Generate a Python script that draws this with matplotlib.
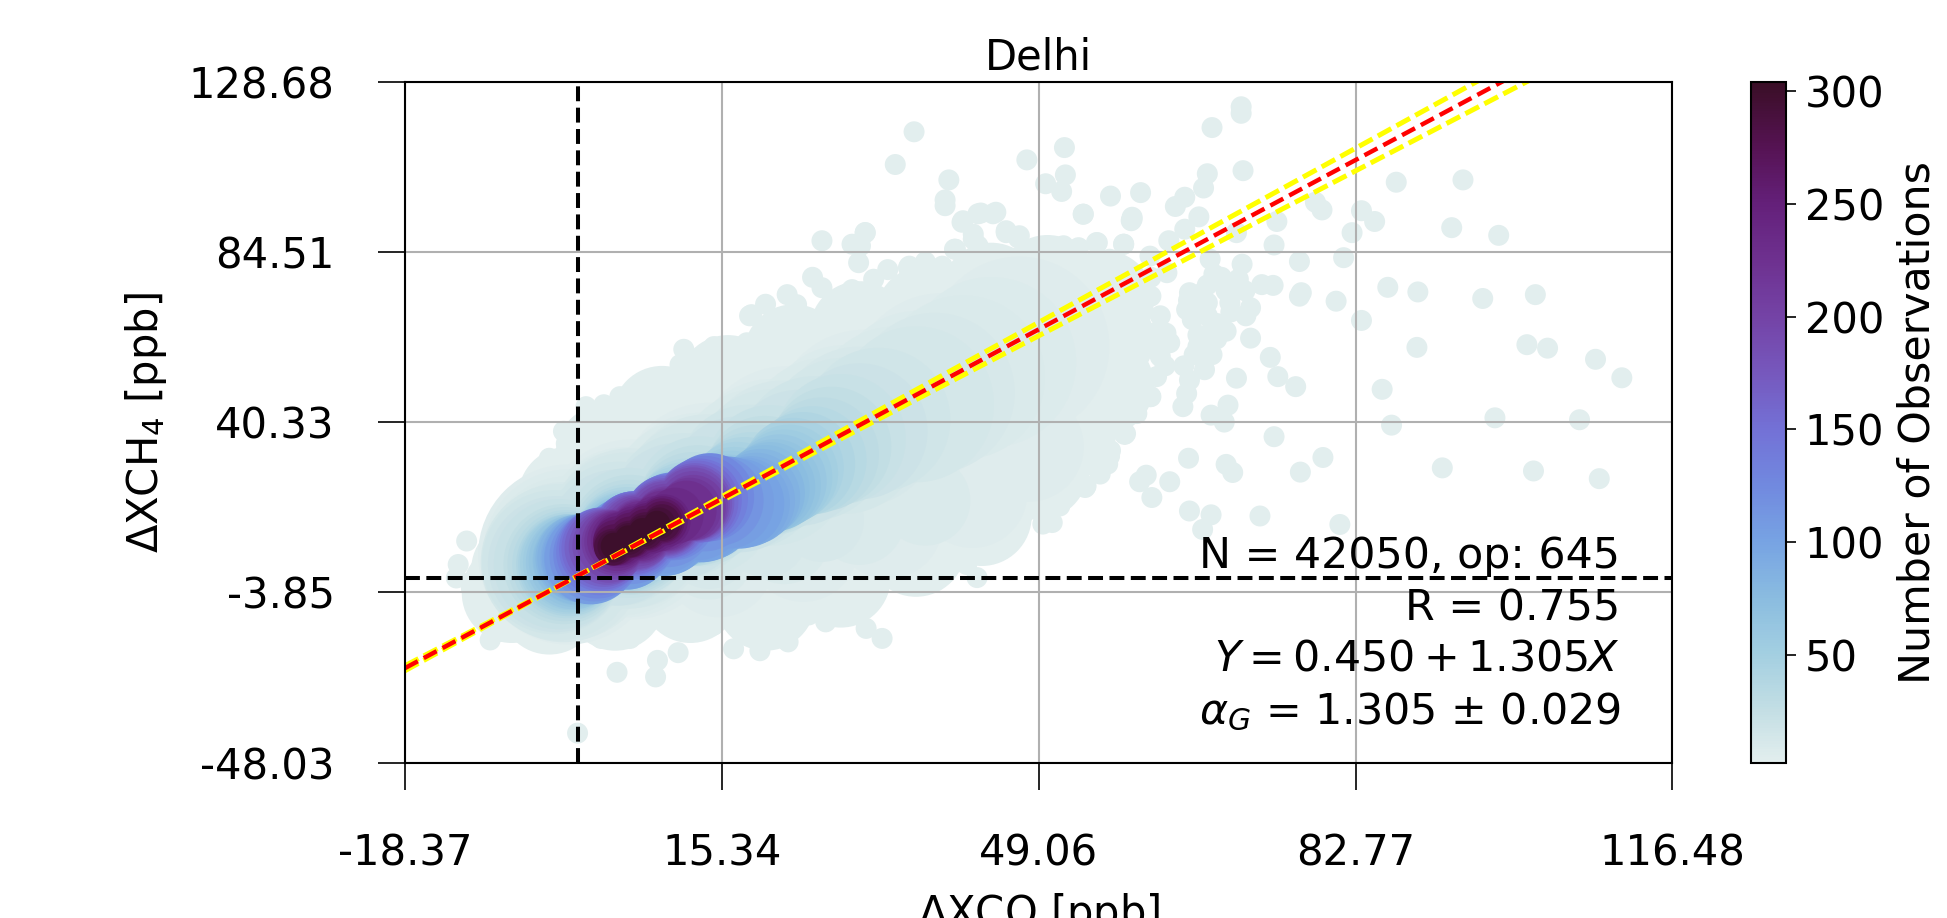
#!/usr/bin/env python3
"""Delhi dXCH4 vs dXCO density scatter, values read off the reference chart."""

import matplotlib

matplotlib.use("Agg")
import matplotlib.pyplot as plt
import numpy as np
from matplotlib.colors import LinearSegmentedColormap, Normalize

x_ticks = [-18.37, 15.34, 49.06, 82.77, 116.48]
y_ticks = [-48.03, -3.85, 40.33, 84.51, 128.68]
x_tick_labels = ["-18.37", "15.34", "49.06", "82.77", "116.48"]
y_tick_labels = ["-48.03", "-3.85", "40.33", "84.51", "128.68"]
cbar_ticks = [50, 100, 150, 200, 250, 300]

fit_intercept = 0.450
fit_slope = 1.305
slope_low = 1.271
slope_high = 1.342

# colour stops of the colourbar (value, colour)
cmap_values = [2.1, 25, 50, 75, 100, 125, 150, 175, 200, 225, 250, 275, 304]
cmap_colors = ["#e2eeee", "#c3dee4", "#a3cfe1", "#8abce0", "#77a3e3", "#7189df", "#7371d6",
               "#7658bd", "#7443a6", "#6e3190", "#64207a", "#561354", "#3a0e26"]

# single observations around the cloud
outliers = [
    (35.8, 115.8), (33.8, 107.3), (39.5, 103.3), (39.1, 98.1), (47.8, 108.5), (51.8, 111.7),
    (51.9, 104.6), (49.8, 102.3), (51.5, 100.3), (56.7, 99.1), (59.9, 100.0), (53.8, 94.4),
    (58.9, 92.7), (59.0, 93.6), (64.6, 98.8), (63.6, 96.4), (67.0, 104.9), (66.6, 101.2),
    (67.5, 116.9), (70.6, 122.3), (70.6, 120.6), (70.8, 105.7), (87.1, 102.7), (94.2, 103.3),
    (93.0, 90.9), (98.0, 88.9), (83.4, 95.3), (84.8, 92.5), (82.4, 89.6), (81.5, 83.1),
    (78.5, 97.5), (79.2, 95.5), (74.4, 92.5), (74.1, 86.4), (76.8, 82.1), (70.1, 89.6),
    (66.1, 93.7), (64.6, 90.5), (62.9, 87.5), (58.1, 86.6), (55.3, 87.0), (53.3, 85.7),
    (51.5, 85.3), (49.1, 84.4), (30.6, 89.6), (30.1, 86.2), (44.5, 94.9), (42.9, 94.7),
    (41.0, 92.7), (42.1, 89.2), (45.6, 90.1), (46.9, 88.2), (40.2, 85.3), (42.6, 86.2),
    (35.3, 80.9), (38.8, 80.9), (67.3, 82.7), (70.7, 81.4), (67.7, 78.8), (70.3, 77.5),
    (74.0, 75.9), (72.8, 76.1), (76.8, 73.1), (77.0, 74.0), (80.7, 71.8), (83.4, 66.8),
    (86.2, 75.4), (89.4, 74.2), (96.3, 72.5), (101.9, 73.5), (89.3, 59.8), (101.0, 60.5),
    (103.2, 59.6), (108.3, 56.7), (111.1, 51.9), (85.6, 48.9), (86.6, 39.6), (97.6, 41.5),
    (106.6, 41.0), (65.1, 74.0), (66.5, 74.0), (69.4, 71.4), (71.6, 70.1), (71.1, 68.0),
    (64.8, 69.6), (67.0, 71.4), (65.4, 67.0), (67.6, 65.3), (67.0, 61.8), (71.6, 62.2),
    (73.7, 57.2), (65.6, 57.9), (67.5, 57.9), (66.7, 54.0), (65.1, 51.3), (64.8, 47.8),
    (64.4, 44.4), (70.1, 51.8), (74.5, 52.2), (76.4, 49.6), (69.2, 44.8), (67.4, 42.2),
    (68.8, 40.4), (74.1, 36.6), (65.0, 31.0), (69.0, 29.4), (69.7, 27.3), (76.9, 27.4),
    (79.3, 31.2), (92.0, 28.5), (101.7, 27.7), (108.7, 25.7), (60.5, 26.6), (59.8, 24.9),
    (63.0, 24.9), (61.1, 20.8), (65.1, 17.3), (67.4, 16.3), (66.5, 12.5), (72.6, 16.0),
    (81.1, 13.8), (55.6, 27.7), (56.6, 31.6), (54.1, 23.8), (51.7, 23.8), (52.2, 28.1),
    (51.3, 18.6), (50.5, 14.3), (54.4, 36.0), (58.2, 37.2), (61.3, 63.5), (61.9, 59.2),
    (61.6, 52.2), (61.0, 47.0), (58.6, 42.6), (58.3, 37.4), (56.7, 33.0), (54.3, 35.6),
    (56.4, 29.5), (61.0, 73.1), (62.7, 79.2), (0.0, -40.4),
    (66.0, 70.0), (67.0, 68.0), (68.0, 66.0), (66.0, 63.0), (68.0, 62.0), (69.0, 74.5),
    (67.0, 76.0), (65.0, 72.0), (66.0, 60.0), (64.5, 55.0), (69.5, 69.0), (69.0, 64.0),
    (68.5, 78.0), (71.0, 74.5), (62.0, 68.0), (63.0, 61.0), (62.5, 55.0), (61.0, 78.0),
]

# scalloped outline of the main cloud
cloud_edge = [
    (-11.8, 9.5), (-12.7, 3.4), (-12.9, -0.1), (-11.3, -2.7), (-9.5, 4.3), (-7.8, 8.6),
    (-9.3, -16.2), (-8.3, -14.0), (-3.5, -15.8), (-2.1, -16.7), (2.5, -15.8), (5.6, -15.8),
    (8.5, -21.5), (8.3, -25.8), (4.2, -24.6), (10.7, -19.5), (16.6, -18.5), (19.4, -19.0),
    (22.4, -16.7), (14.5, -12.3), (11.6, -12.8), (21.2, -14.0), (26.4, -11.5), (28.6, -8.8),
    (30.7, -13.2), (32.4, -15.8), (24.6, -9.7), (31.7, -2.7), (-7.0, -12.3), (-10.6, -6.2),
    (-4.6, -13.2), (-6.0, 17.4), (-4.9, 20.0), (-3.9, 27.8), (-1.2, 34.8), (0.9, 44.4),
    (2.8, 44.9), (6.0, 45.3), (9.2, 48.8), (11.3, 59.3), (10.9, 55.3), (13.0, 54.9),
    (18.3, 68.0), (18.0, 61.0), (16.6, 57.5), (-7.0, 13.0), (18.5, 68.3), (21.0, 67.0),
    (22.3, 73.5), (23.3, 70.9), (26.0, 75.3), (26.0, 87.5), (29.2, 86.6), (30.6, 89.6),
    (29.9, 81.8), (29.2, 74.8), (31.5, 77.5), (35.2, 80.5), (38.6, 80.1), (40.9, 92.3),
    (42.6, 94.5), (44.2, 94.5), (39.1, 96.6), (40.1, 85.3), (42.1, 87.9), (45.6, 89.6),
    (47.0, 88.8), (46.7, 80.9), (49.0, 84.4), (53.8, 94.4), (51.7, 86.2), (55.2, 87.0),
    (58.1, 86.6), (59.0, 93.1), (56.6, 82.7), (60.9, 83.5), (62.6, 63.5), (62.0, 57.4),
    (60.9, 47.0), (59.5, 42.6), (58.2, 37.4), (56.5, 31.3), (54.2, 35.6), (55.6, 26.9),
    (52.0, 26.9), (54.0, 23.4), (51.7, 23.4), (50.6, 19.1), (49.5, 13.9), (47.4, 16.5),
    (45.5, 9.5), (41.4, 3.4), (42.5, 0.0), (40.0, 6.0), (35.0, -1.0), (31.8, -3.6),
    (-1.0, -8.0), (36.0, 2.0), (44.0, 12.0), (48.0, 22.0), (57.0, 44.0), (60.0, 60.0),
    (-8.5, 12.0), (-6.5, 16.0), (-5.5, 23.0), (-3.0, 31.0), (-1.5, 38.0), (4.5, 47.0),
    (7.5, 50.0), (14.5, 60.0), (20.0, 71.0), (25.0, 78.0), (33.0, 80.0), (37.0, 82.0),
]

# interior of the cloud at the lowest count
fill_pts = [
    (-7, -4), (-6, 2), (-3, -7), (4, -6), (12, -4), (20, -6), (28, 0), (36, 8), (43, 16),
    (49, 28), (52, 38), (56, 50), (56, 62), (56, 72), (50, 76), (44, 74), (37, 68), (30, 64),
    (23, 58), (16, 50), (9, 42), (3, 32), (-1, 21), (44, 40), (48, 55), (40, 28),
    (30, 12), (36, 20), (34, 30), (48, 44), (38, 40), (40, 56), (50, 62), (32, 50), (25, 40),
    (25, 8), (15, 8), (44, 28), (52, 50), (44, 64),
]

# denser counts run along the ridge of the cloud
lvl_5 = [(-1, 6), (5.75, 12.5), (14, 22), (22.25, 31.5), (30.5, 41), (38.75, 50.5), (47, 60)]
low_5 = [(15, 4), (24, 8), (33, 14), (42, 22), (48, 34)]
lvl_7 = [(-1, 6), (5.25, 11.8), (13, 20.7), (20.75, 29.5), (28.5, 38.3), (36.25, 47.2), (44, 56)]
low_8 = [(14, 6), (22, 10), (30, 15), (37, 20)]
lvl_9 = [(-1, 5), (4.75, 11.6), (12, 19.7), (19.25, 27.75), (26.5, 35.8), (33.75, 43.9), (41, 52)]
low_11 = [(14, 8), (20, 11), (26, 15)]
lvl_11 = [(-1.5, 4), (5.6, 12.8), (13.7, 21.6), (21.8, 30.4), (29.9, 39.2), (38, 48)]
lvl_13 = [(-2, 4), (5.2, 12.2), (12.9, 20.4), (20.6, 28.6), (28.3, 36.8), (36, 45)]
lvl_16 = [(-2.5, 4), (4.4, 11.4), (11.3, 18.8), (18.2, 26.2), (25.1, 33.6), (32, 41)]
lvl_19 = [(-2.3, 3.5), (4.16, 10.4), (10.6, 17.3), (17.1, 24.2), (23.5, 31.1), (30, 38)]
lvl_22 = [(-2, 3.5), (5.5, 11.6), (13, 19.8), (20.5, 27.9), (28, 36)]
lvl_26 = [(-1.5, 3.5), (5.6, 11.1), (12.8, 18.8), (19.9, 26.4), (27, 34)]
lvl_30 = [(-1.4, 3.5), (5.45, 10.6), (12.3, 17.8), (19.15, 24.9), (26, 32)]
lvl_35 = [(-1.2, 3.5), (5.35, 10.25), (11.9, 17), (18.45, 23.75), (25, 30.5)]
lvl_40 = [(-1, 3.5), (5.25, 10), (11.5, 16.5), (17.75, 23), (24, 29.5)]
lvl_45 = [(-1, 3.5), (5, 9.75), (11, 16), (17, 22.25), (23, 28.5)]
lvl_50 = [(-0.9, 3.7), (4.95, 9.5), (10.8, 15.4), (16.65, 21.2), (22.5, 27)]
lvl_55 = [(-0.7, 4), (4.97, 9.5), (10.65, 15), (16.3, 20.5), (22, 26)]
lvl_60 = [(-0.5, 4), (5, 9.25), (10.5, 14.5), (16, 19.75), (21.5, 25)]
lvl_65 = [(-0.3, 4.3), (5, 9.2), (10.3, 14.2), (15.7, 19.1), (21, 24)]
lvl_70 = [(0, 4.5), (5.1, 9.25), (10.25, 14), (15.4, 18.75), (20.5, 23.5)]
lvl_75 = [(0, 4.5), (5, 9.1), (10, 13.75), (15, 18.4), (20, 23)]
lvl_80 = [(0.2, 5), (5, 9.25), (9.85, 13.5), (14.7, 17.75), (19.5, 22)]
lvl_85 = [(0.4, 5), (5.05, 9), (9.7, 13), (14.35, 17), (19, 21)]
lvl_90 = [(0.8, 5), (5.2, 8.75), (9.6, 12.5), (14, 16.25), (18.4, 20)]
lvl_95 = [(1, 5), (5.2, 8.6), (9.4, 12.25), (13.6, 15.9), (17.8, 19.5)]
lvl_100 = [(1.2, 5), (5.2, 8.55), (9.2, 12.1), (13.2, 15.65), (17.2, 19.2)]
lvl_105 = [(1.4, 5), (5.2, 9), (9, 13), (12.8, 16.5), (16, 19.5)]
lvl_115 = [(1.8, 5.5), (5.7, 10), (9.6, 14.4), (13.5, 18.5), (15, 20)]
lvl_125 = [(2.1, 6.0), (6.1, 11.0), (10.1, 15.9), (14.1, 20.9)]
lvl_135 = [(2.3, 6.6), (6.05, 11.25), (9.8, 15.85), (13.55, 20.45)]
lvl_145 = [(2.5, 7.3), (6.0, 11.5), (9.5, 15.8), (13.0, 20.0)]
lvl_155 = [(2.65, 7.55), (6, 11.6), (9.4, 15.7), (12.75, 19.75)]
lvl_165 = [(2.8, 7.8), (6.0, 11.7), (9.3, 15.6), (12.5, 19.5)]
lvl_175 = [(3.1, 8), (6.15, 11.75), (9.3, 15.55), (12.4, 19.3)]
lvl_185 = [(3.35, 8.2), (6.3, 11.8), (9.3, 15.5), (12.3, 19.1)]
lvl_195 = [(3.6, 8.65), (6.5, 11.95), (9.4, 15.35), (12.3, 18.65)]
lvl_205 = [(3.9, 9.1), (6.7, 12.1), (9.5, 15.2), (12.3, 18.2)]
lvl_215 = [(4.05, 9.3), (6.7, 12.1), (9.3, 15), (11.95, 17.8)]
lvl_225 = [(4.2, 9.5), (6.7, 12.1), (9.1, 14.8), (11.6, 17.4)]
lvl_235 = [(4.4, 9.75), (6.4, 11.85), (8.4, 13.95), (10.4, 16.05)]
lvl_245 = [(4.6, 10.0), (6.1, 11.6), (7.7, 13.1), (9.2, 14.7)]
lvl_255 = [(4.3, 9.55), (5.9, 11.3), (7.5, 12.95), (9.1, 14.7)]
lvl_265 = [(4.05, 9.1), (5.7, 11.0), (7.3, 12.8), (9.0, 14.7)]
lvl_275 = [(3.9, 8.5), (5.6, 10.5), (7.25, 12.5), (9, 14.5)]
lvl_285 = [(3.7, 7.9), (5.5, 10.0), (7.2, 12.2), (9.0, 14.3)]
lvl_292 = [(3.8, 8.05), (5.45, 10.05), (7.05, 12.1), (8.7, 14.1)]
lvl_300 = [(3.88, 8.2), (5.4, 10.1), (6.9, 12.0), (8.46, 13.9)]

# points, count, marker area in points squared
groups = [
    (outliers, 3, 228), (cloud_edge, 3, 228), (fill_pts, 3, 5184),
    (lvl_5, 5, 16796), (low_5, 5, 6272), (lvl_7, 7, 14982), (low_8, 8, 4199), (lvl_9, 9, 13943),
    (low_11, 11, 3658), (lvl_11, 11, 13271), (lvl_13, 13, 12616), (lvl_16, 16, 10750),
    (lvl_19, 19, 9588), (lvl_22, 22, 8761), (lvl_26, 26, 7465), (lvl_30, 30, 6737),
    (lvl_35, 35, 6047), (lvl_40, 40, 5607), (lvl_45, 45, 5184), (lvl_50, 50, 4979),
    (lvl_55, 55, 4778), (lvl_60, 60, 4581), (lvl_65, 65, 4388), (lvl_70, 70, 4199),
    (lvl_75, 75, 4014), (lvl_80, 80, 4014), (lvl_85, 85, 4014), (lvl_90, 90, 4106),
    (lvl_95, 95, 4199), (lvl_100, 100, 4199), (lvl_105, 105, 4388), (lvl_115, 115, 4199),
    (lvl_125, 125, 4014), (lvl_135, 135, 3834), (lvl_145, 145, 3658), (lvl_155, 155, 3486),
    (lvl_165, 165, 3208), (lvl_175, 175, 2994), (lvl_185, 185, 2788), (lvl_195, 195, 2500),
    (lvl_205, 205, 2213), (lvl_215, 215, 2040), (lvl_225, 225, 1866), (lvl_235, 235, 1640),
    (lvl_245, 245, 1475), (lvl_255, 255, 1270), (lvl_265, 265, 1065), (lvl_275, 275, 880),
    (lvl_285, 285, 697), (lvl_292, 292, 520), (lvl_300, 300, 369),
]


def collect():
    xs, ys, zs, sizes = [], [], [], []
    for pts, count, size in groups:
        for x, y in pts:
            xs.append(x)
            ys.append(y)
            zs.append(count)
            sizes.append(size)
    xs, ys, zs, sizes = map(np.array, (xs, ys, zs, sizes))
    order = np.argsort(zs, kind="stable")  # densest points on top
    return xs[order], ys[order], zs[order], sizes[order]


W, H = 1947, 918
plt.rcParams["font.size"] = 30
fig = plt.figure(figsize=(W / 100, H / 100), dpi=100)
ax = fig.add_axes([404.9 / W, (H - 762.5) / H, 1267.5 / W, 680.3 / H])

stops = [(v - cmap_values[0]) / (cmap_values[-1] - cmap_values[0]) for v in cmap_values]
dense = LinearSegmentedColormap.from_list("dense_like", list(zip(stops, cmap_colors)))
norm = Normalize(vmin=cmap_values[0], vmax=cmap_values[-1])

xs, ys, zs, sizes = collect()
sc = ax.scatter(xs, ys, c=zs, s=sizes, cmap=dense, norm=norm, linewidths=0)

ax.set_xlim(x_ticks[0], x_ticks[-1])
ax.set_ylim(y_ticks[0], y_ticks[-1])
ax.set_xticks(x_ticks)
ax.set_xticklabels(x_tick_labels)
ax.set_yticks(y_ticks)
ax.set_yticklabels(y_tick_labels)
ax.tick_params(length=19.5, width=1.2, pad=31)
ax.grid(True, color="#b0b0b0", linewidth=1.5)
for spine in ax.spines.values():
    spine.set_linewidth(1.5)

line_x = np.array([x_ticks[0], x_ticks[-1]])
ax.plot(line_x, fit_intercept + slope_high * line_x, color="yellow", lw=3.6, dashes=(3.07, 1.2))
ax.plot(line_x, fit_intercept + slope_low * line_x, color="yellow", lw=3.6, dashes=(3.07, 1.2))
ax.plot(line_x, fit_intercept + fit_slope * line_x, color="red", lw=3.2, dashes=(3.3, 1.5))
ax.plot([0, 0], [y_ticks[0], y_ticks[-1]], "--", color="black", lw=2.9)
ax.plot([x_ticks[0], x_ticks[-1]], [0, 0], "--", color="black", lw=2.9)

ax.set_title("Delhi", fontsize=30, pad=9)
ax.set_xlabel("$\\Delta$XCO [ppb]", fontsize=30)
ax.xaxis.set_label_coords(0.5, -0.189)
ax.set_ylabel("$\\Delta$XCH$_4$ [ppb]", fontsize=30)
ax.yaxis.set_label_coords(-0.186, 0.5)

text_lines = ["N = 42050, op: 645", "R = 0.755", "$Y = 0.450 + 1.305 X$", "$\\alpha_G$ = 1.305 $\\pm$ 0.029"]
text_y = [0.286, 0.208, 0.1356, 0.0566]
for line, y in zip(text_lines, text_y):
    ax.text(0.959, y, line, transform=ax.transAxes, ha="right", va="baseline", fontsize=30.8)

cax = fig.add_axes([1751 / W, (H - 762.5) / H, 35 / W, 680.3 / H])
cbar = fig.colorbar(sc, cax=cax, ticks=cbar_ticks)
cbar.ax.tick_params(length=7, width=1.2, pad=6.5)
cbar.outline.set_linewidth(1.5)
cbar.set_label("Number of Observations", fontsize=30.8, labelpad=9)

fig.savefig("out.png", dpi=100)
plt.close(fig)
